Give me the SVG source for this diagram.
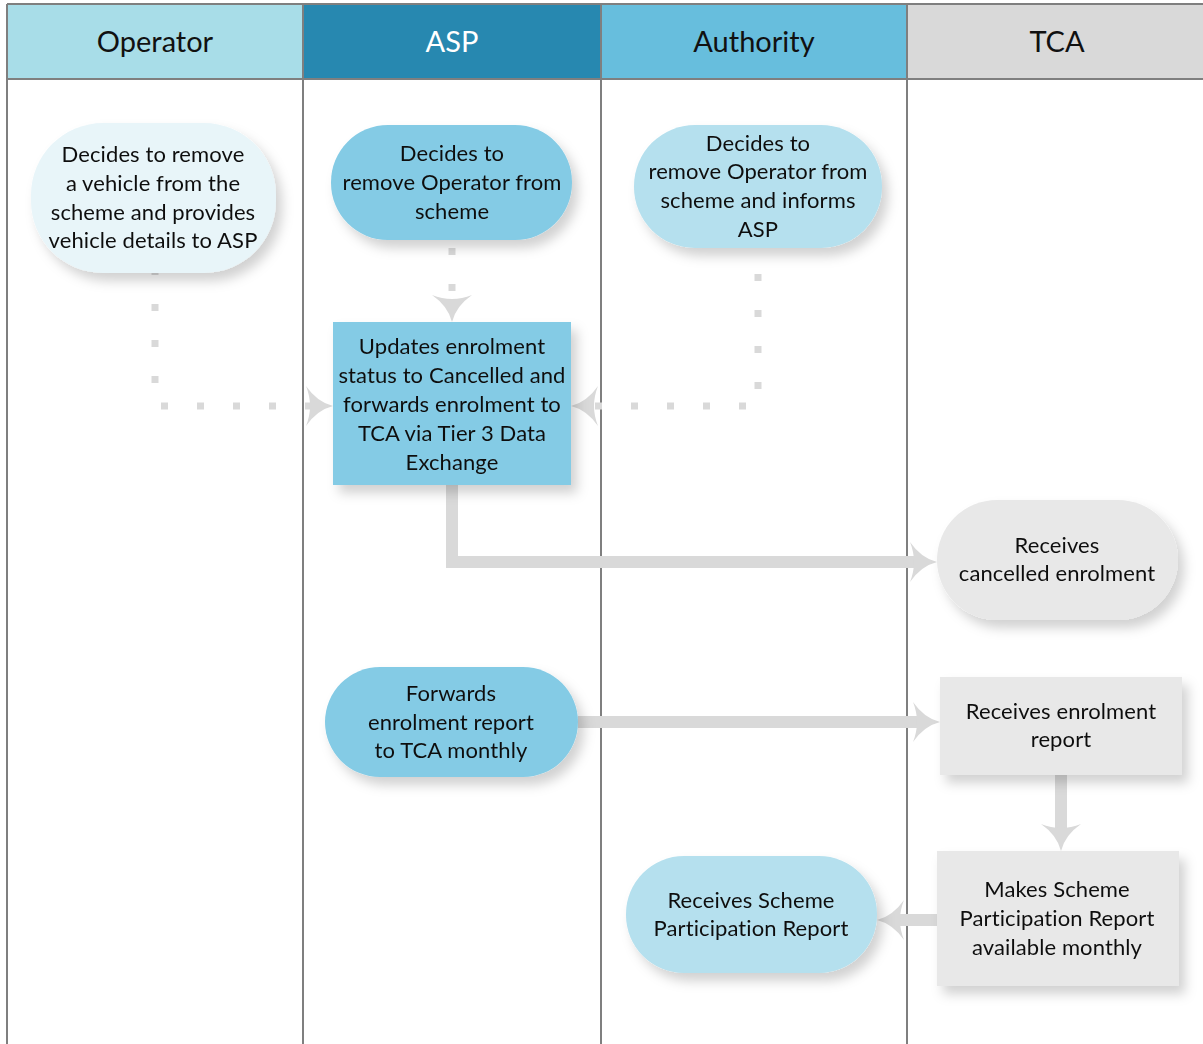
<svg xmlns="http://www.w3.org/2000/svg" width="1203" height="1044" viewBox="0 0 1203 1044">
<style>
.t{font-family:Lato,"Liberation Sans",sans-serif;font-size:22px;letter-spacing:0.1px;fill:#111;text-anchor:middle}
.h{font-family:Lato,"Liberation Sans",sans-serif;font-size:29px;fill:#111;text-anchor:middle}
.lane{stroke:#7f7f7f;stroke-width:2;fill:none}
.solid{stroke:#d9d9d9;stroke-width:12;fill:none;stroke-linejoin:miter;marker-end:url(#ah)}
.dot{stroke:#d9d9d9;stroke-width:7;fill:none;stroke-dasharray:7 29;marker-end:url(#ah)}
.sh{filter:url(#shadow)}
</style>
<defs>
<filter id="shadow" x="-20%" y="-20%" width="150%" height="160%">
<feDropShadow dx="6" dy="8" stdDeviation="6" flood-color="#000" flood-opacity="0.18"/>
</filter>
<marker id="ah" markerUnits="userSpaceOnUse" viewBox="-30 -22 32 44" refX="-23" refY="0" markerWidth="32" markerHeight="44" orient="auto" overflow="visible">
<path d="M0,0 Q-16,-4 -27,-20 Q-23,-10 -23,0 Q-23,10 -27,20 Q-16,4 0,0 Z" fill="#d9d9d9"/>
</marker>
</defs>
<rect width="1203" height="1044" fill="#fff"/>
<g id="lanes">
<rect x="7" y="4" width="296" height="75" fill="#a8dde8"/>
<rect x="303" y="4" width="298" height="75" fill="#2788b0"/>
<rect x="601" y="4" width="306" height="75" fill="#67bedd"/>
<rect x="907" y="4" width="296" height="75" fill="#d9d9d9"/>
<path class="lane" d="M7,4 H1203 M7,79 H1203 M7,4 V1044 M303,4 V1044 M601,4 V1044 M907,4 V1044"/>
<text class="h" x="155" y="52">Operator</text>
<text class="h" x="452" y="52" style="fill:#fff">ASP</text>
<text class="h" x="754" y="52">Authority</text>
<text class="h" x="1057" y="52">TCA</text>
</g>
<g id="connectors">
<path class="dot" d="M155,268 V406 H310"/>
<path class="dot" d="M452,248 V299"/>
<path class="dot" d="M758,274 V406 H594"/>
<path class="solid" d="M452,485 V562 H914"/>
<path class="solid" d="M578,722 H917"/>
<path class="solid" d="M1061,775 V828"/>
<path class="solid" d="M937,920 H900"/>
</g>
<g id="n1" class="sh">
<rect x="31" y="123" width="245" height="150" rx="72" fill="#e8f5f9"/>
<text class="t"><tspan x="153" y="162">Decides to remove</tspan><tspan x="153" y="191">a vehicle from the</tspan><tspan x="153" y="220">scheme and provides</tspan><tspan x="153" y="248">vehicle details to ASP</tspan></text>
</g>
<g id="n2" class="sh">
<rect x="331" y="125" width="241" height="115" rx="57" fill="#84cbe5"/>
<text class="t"><tspan x="452" y="161">Decides to</tspan><tspan x="452" y="190">remove Operator from</tspan><tspan x="452" y="219">scheme</tspan></text>
</g>
<g id="n3" class="sh">
<rect x="634" y="125" width="248" height="123" rx="61" fill="#b5e0ee"/>
<text class="t"><tspan x="758" y="151">Decides to</tspan><tspan x="758" y="179">remove Operator from</tspan><tspan x="758" y="208">scheme and informs</tspan><tspan x="758" y="237">ASP</tspan></text>
</g>
<g id="n4" class="sh">
<rect x="333" y="322" width="238" height="163" fill="#84cbe5"/>
<text class="t"><tspan x="452" y="354">Updates enrolment</tspan><tspan x="452" y="383">status to Cancelled and</tspan><tspan x="452" y="412">forwards enrolment to</tspan><tspan x="452" y="441">TCA via Tier 3 Data</tspan><tspan x="452" y="470">Exchange</tspan></text>
</g>
<g id="n5" class="sh">
<rect x="937" y="500" width="241" height="120" rx="60" fill="#e8e8e8"/>
<text class="t"><tspan x="1057" y="553">Receives</tspan><tspan x="1057" y="581">cancelled enrolment</tspan></text>
</g>
<g id="n6" class="sh">
<rect x="325" y="667" width="253" height="110" rx="55" fill="#84cbe5"/>
<text class="t"><tspan x="451" y="701">Forwards</tspan><tspan x="451" y="730">enrolment report</tspan><tspan x="451" y="758">to TCA monthly</tspan></text>
</g>
<g id="n7" class="sh">
<rect x="940" y="677" width="242" height="98" fill="#e8e8e8"/>
<text class="t"><tspan x="1061" y="719">Receives enrolment</tspan><tspan x="1061" y="747">report</tspan></text>
</g>
<g id="n8" class="sh">
<rect x="937" y="851" width="242" height="135" fill="#e8e8e8"/>
<text class="t"><tspan x="1057" y="897">Makes Scheme</tspan><tspan x="1057" y="926">Participation Report</tspan><tspan x="1057" y="955">available monthly</tspan></text>
</g>
<g id="n9" class="sh">
<rect x="626" y="856" width="251" height="117" rx="58" fill="#b5e0ee"/>
<text class="t"><tspan x="751" y="908">Receives Scheme</tspan><tspan x="751" y="936">Participation Report</tspan></text>
</g>
</svg>
